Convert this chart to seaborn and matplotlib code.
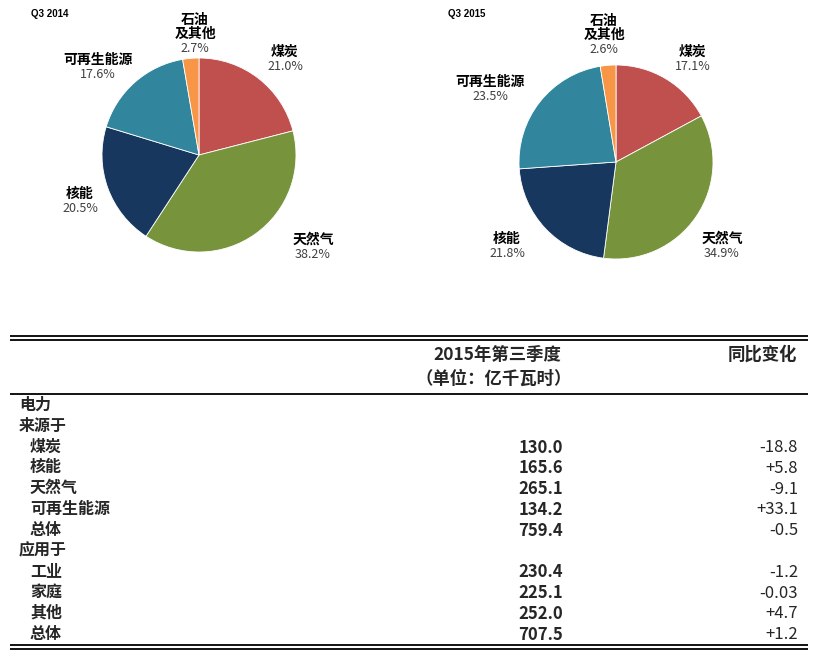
import seaborn as sns
import matplotlib
matplotlib.use('Agg')
import matplotlib.pyplot as plt

# Pie data (share of generation, %)
sources = ['煤炭', '天然气', '核能', '可再生能源', '石油\n及其他']
share_2014 = [21.0, 38.2, 20.5, 17.6, 2.7]
share_2015 = [17.1, 34.9, 21.8, 23.5, 2.6]
colors = ['#C0504D', '#77933C', '#17375E', '#31859C', '#F79646']

# Table data
row_labels = ['电力', '来源于', '煤炭', '核能', '天然气', '可再生能源', '总体',
              '应用于', '工业', '家庭', '其他', '总体']
row_indent = [0, 0, 1, 1, 1, 1, 1, 0, 1, 1, 1, 1]
q3_values = [None, None, 130.0, 165.6, 265.1, 134.2, 759.4,
             None, 230.4, 225.1, 252.0, 707.5]
yoy_change = [None, None, '-18.8', '+5.8', '-9.1', '+33.1', '-0.5',
              None, '-1.2', '-0.03', '+4.7', '+1.2']

sns.set_theme(style='white')
plt.rcParams['font.family'] = ['Noto Sans CJK SC', 'DejaVu Sans']

W, H = 817, 656
fig = plt.figure(figsize=(W / 100, H / 100), dpi=100)

# pixel-coordinate layer for text and table rules
ax_t = fig.add_axes([0, 0, 1, 1])
ax_t.set_xlim(0, W)
ax_t.set_ylim(H, 0)
ax_t.axis('off')

R = 97
pies = [
    dict(title='Q3 2014', shares=share_2014, center=(199, 155),
         anchors=[(285, 59), (313, 247), (80, 201), (98, 67), (195, 41)],
         title_xy=(31, 14)),
    dict(title='Q3 2015', shares=share_2015, center=(616, 162),
         anchors=[(693, 59), (722, 246), (507, 246), (490, 89), (604, 42)],
         title_xy=(448, 14)),
]

for p in pies:
    cx, cy = p['center']
    ax = fig.add_axes([(cx - R) / W, (H - cy - R) / H, 2 * R / W, 2 * R / H])
    ax.pie(p['shares'], colors=colors, startangle=90, counterclock=False,
           radius=1, wedgeprops=dict(linewidth=0.6, edgecolor='white'))
    ax.set_xlim(-1, 1)
    ax.set_ylim(-1, 1)
    ax.axis('off')
    ax_t.text(p['title_xy'][0], p['title_xy'][1], p['title'], fontsize=7,
              fontweight='bold', family=['Liberation Sans', 'DejaVu Sans'],
              ha='left', va='center', color='black')
    for name, val, (ax_x, ax_y) in zip(sources, p['shares'], p['anchors']):
        ax_t.text(ax_x, ax_y, name, fontsize=10, fontweight='bold',
                  ha='center', va='bottom', color='black', linespacing=1.0)
        ax_t.text(ax_x, ax_y + 1, f'{val:.1f}%', fontsize=9,
                  ha='center', va='top', color='#404040')

# table rules
for y, lw in [(336, 1.3), (340, 1.3), (394, 1.3), (645, 1.3), (649, 1.3)]:
    ax_t.plot([10, 808], [y, y], color='black', lw=lw, solid_capstyle='butt')

# table header
ax_t.text(497, 355, '2015年第三季度', fontsize=12.5, fontweight='bold',
          ha='center', va='center')
ax_t.text(494, 379, '（单位：亿千瓦时）', fontsize=12.5, fontweight='bold',
          ha='center', va='center')
ax_t.text(797, 355, '同比变化', fontsize=12.5, fontweight='bold',
          ha='right', va='center')

# table body
y0, dy = 405, 20.8
for i, (lab, ind, v, c) in enumerate(zip(row_labels, row_indent, q3_values, yoy_change)):
    y = y0 + i * dy
    ax_t.text(19 + 11 * ind, y, lab, fontsize=11.5, fontweight='bold',
              ha='left', va='center')
    if v is not None:
        ax_t.text(563, y + 1, f'{v:.1f}', fontsize=12, fontweight='bold',
                  ha='right', va='center')
        ax_t.text(798, y + 1, c, fontsize=12,
                  ha='right', va='center')

fig.savefig('out.png', dpi=100)
